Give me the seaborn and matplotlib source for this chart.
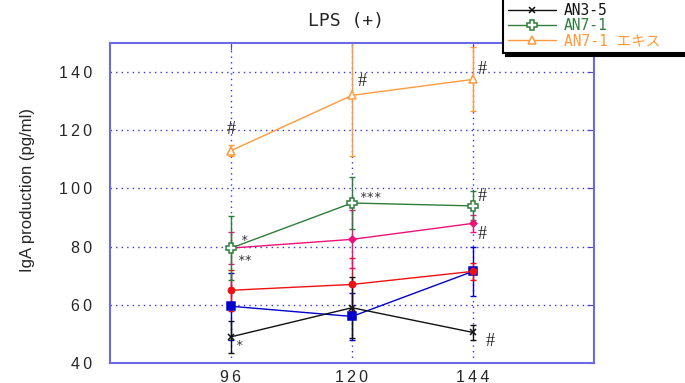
import numpy as np
import pandas as pd
import matplotlib
matplotlib.use("Agg")
import matplotlib.pyplot as plt
import seaborn as sns

# data
hours = [96, 120, 144]
series_names = ["Control", "AN3-1", "AN3-2", "AN3-5", "AN7-1", "AN7-1 エキス"]
control = [59.5, 56.0, 71.5]
control_err = [11.5, 8.0, 8.5]
an3_1 = [65.0, 67.0, 71.5]
an3_1_err = [7.0, 9.0, 3.0]
an3_2 = [79.5, 82.5, 88.0]
an3_2_err = [5.5, 10.0, 3.0]
an3_5 = [49.0, 59.0, 50.5]
an3_5_err = [5.5, 10.5, 2.5]
an7_1 = [79.5, 95.0, 94.0]
an7_1_err = [11.0, 9.0, 5.0]
an7_1_ex = [113.0, 132.0, 137.5]
an7_1_ex_err = [2.0, 21.0, 11.0]

yticks = [40, 60, 80, 100, 120, 140]

# significance marks: (series, hour, text)
marks = [
    ("AN7-1 エキス", 96, "#"), ("AN7-1 エキス", 120, "#"), ("AN7-1 エキス", 144, "#"),
    ("AN7-1", 96, "*"), ("AN3-2", 96, "**"), ("AN3-5", 96, "*"),
    ("AN7-1", 120, "***"), ("AN7-1", 144, "#"), ("AN3-2", 144, "#"), ("AN3-5", 144, "#"),
]

values = [control, an3_1, an3_2, an3_5, an7_1, an7_1_ex]
errors = [control_err, an3_1_err, an3_2_err, an3_5_err, an7_1_err, an7_1_ex_err]
rows = []
for name, v, e in zip(series_names, values, errors):
    for h, vv, ee in zip(hours, v, e):
        rows.append({"hour": h, "value": vv, "err": ee, "group": name})
df = pd.DataFrame(rows)

colors = {"Control": "#0000cc", "AN3-1": "#ee1111", "AN3-2": "#ee1177",
          "AN3-5": "#111111", "AN7-1": "#2e7d3a", "AN7-1 エキス": "#ff9a3c"}
styles = {"Control": dict(marker="s", ms=5.5, mfc="#0000cc"),
          "AN3-1": dict(marker="o", ms=4.5, mfc="#ee1111"),
          "AN3-2": dict(marker="D", ms=3.5, mfc="#ee1177"),
          "AN3-5": dict(marker="x", ms=5, mfc="none"),
          "AN7-1": dict(marker="P", ms=6.5, mfc="white"),
          "AN7-1 エキス": dict(marker="^", ms=6, mfc="white")}

sns.set_style("white")
plt.rcParams["font.family"] = ["Liberation Sans", "DejaVu Sans"]

fig = plt.figure(figsize=(6.85, 3.83), dpi=100)
ax = fig.add_axes([110 / 685, 20 / 383, 484 / 685, 320 / 383])

for name in series_names:
    sub = df[df.group == name]
    c = colors[name]
    ax.errorbar(sub.hour, sub.value, yerr=sub.err, fmt="none", ecolor=c,
                elinewidth=1, capsize=2.5, capthick=1, zorder=2)
    st = styles[name]
    sns.lineplot(data=sub, x="hour", y="value", ax=ax, color=c, lw=1,
                 marker=st["marker"], markersize=st["ms"],
                 markerfacecolor=st["mfc"], markeredgecolor=c,
                 markeredgewidth=1.1, label=name, zorder=3)

off = {
    ("AN7-1 エキス", 96): (0, 21), ("AN7-1 エキス", 120): (10, 14), ("AN7-1 エキス", 144): (9, 10),
    ("AN7-1", 96): (13, 11), ("AN3-2", 96): (14, -9), ("AN3-5", 96): (8, -6),
    ("AN7-1", 120): (18, 9), ("AN7-1", 144): (9, 9), ("AN3-2", 144): (9, -11),
    ("AN3-5", 144): (17, -9),
}
for name, h, t in marks:
    v = df[(df.group == name) & (df.hour == h)].value.iloc[0]
    dx, dy = off[(name, h)]
    if t == "#":
        ax.annotate(t, (h, v), xytext=(dx, dy), textcoords="offset pixels",
                    ha="center", va="center", fontsize=13, family="Liberation Serif")
    else:
        ax.annotate(t, (h, v), xytext=(dx, dy - 3), textcoords="offset pixels",
                    ha="center", va="center", fontsize=9, family="DejaVu Sans Mono",
                    color="#333333")

spaced = lambda n: "\u2009".join(str(n))
ax.set_xlim(72, 168)
ax.set_ylim(40, 150)
ax.set_xticks(hours)
ax.set_xticklabels([spaced(h) for h in hours])
ax.set_yticks(yticks)
ax.set_yticklabels([spaced(t) for t in yticks])
ax.set_xlabel("")
ax.set_ylabel("IgA production (pg/ml)", fontsize=12)
ax.yaxis.set_label_coords(-0.155, 0.54)
ax.grid(True, color="#3333ee", ls=(0, (1, 3)), lw=1)
for s in ax.spines.values():
    s.set_color("#6a6ae8")
    s.set_linewidth(1.5)
ax.tick_params(direction="in", color="#4444dd", length=5, labelsize=11.5,
               top=True, right=True)
ax.tick_params(axis="y", pad=13)
ax.tick_params(axis="x", pad=5)
ax.set_title("LPS (+)", fontsize=13, family=["DejaVu Sans Mono", "Noto Sans CJK JP"],
             pad=12, x=0.488)

leg = ax.legend(loc="lower left",
                bbox_to_anchor=(503 / 685, 1 - 53 / 383, 200 / 685, 0.3),
                bbox_transform=fig.transFigure, mode="expand", frameon=True, fancybox=False,
                shadow={"color": "black", "alpha": 1}, labelcolor="linecolor",
                prop={"family": ["DejaVu Sans Mono", "Noto Sans CJK JP"], "size": 10.5},
                handlelength=3.3, handletextpad=0.5, labelspacing=0.0,
                borderpad=0.35, borderaxespad=0)
leg.get_frame().set_edgecolor("black")
leg.get_frame().set_linewidth(1.5)
leg.set_zorder(10)

fig.savefig("out.png", dpi=100)
